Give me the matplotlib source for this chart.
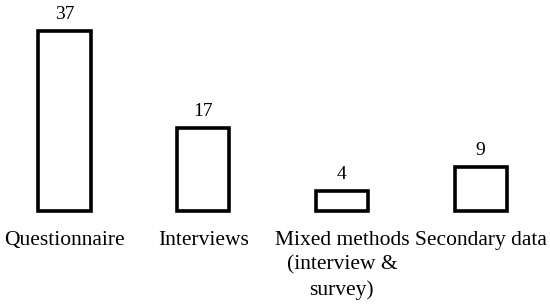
import matplotlib
matplotlib.use("Agg")
import matplotlib.pyplot as plt

categories = ["Questionnaire", "Interviews", "Mixed methods\n(interview &\nsurvey)", "Secondary data"]
values = [37, 17, 4, 9]

plt.rcParams['font.family'] = ['Liberation Serif', 'DejaVu Serif']

fig = plt.figure(figsize=(5.5, 3.05), dpi=100)
ax = fig.add_axes([0, 0, 1, 1])
x = list(range(len(categories)))
ax.bar(x, values, width=0.375, facecolor='white', edgecolor='black', linewidth=2.6)
ax.set_xlim(-0.465, 3.50)
ax.set_ylim(-19.52, 43.49)
ax.axis('off')

for xi, v, c in zip(x, values, categories):
    ax.annotate(str(v), (xi, v), xytext=(0, 6), textcoords='offset points',
                ha='center', va='bottom', fontsize=14)
    ax.annotate(c, (xi, 0), xytext=(0, -14.5), textcoords='offset points',
                ha='center', va='top', fontsize=15.5, linespacing=1.38)

fig.savefig("out.png", dpi=100)
